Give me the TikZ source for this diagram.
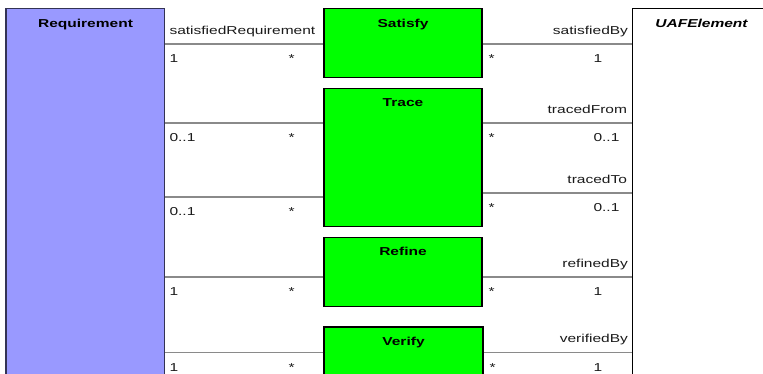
\documentclass[tikz,border=0pt]{standalone}
\usepackage{fontspec}
\setmainfont{Liberation Sans}[FakeStretch=1.35]
\usetikzlibrary{calc,backgrounds}
\definecolor{reqfill}{HTML}{9999FF}
\definecolor{reqdraw}{HTML}{333355}
\definecolor{assocgray}{HTML}{8A8A8A}
\definecolor{relgreen}{HTML}{00FF00}
\definecolor{txt}{HTML}{1A1A1A}
\begin{document}
\begin{tikzpicture}[x=1pt,y=-1pt,
  every node/.style={font=\fontsize{11.5}{13}\selectfont, inner sep=0pt, outer sep=0pt, text=txt},
  box/.style={draw=black, line width=1.5pt, anchor=north west, inner sep=0pt, outer sep=0pt},
  relbox/.style={box, fill=relgreen},
  title/.style={font=\fontsize{11.5}{13}\selectfont\bfseries, anchor=base, text=black},
  ititle/.style={font=\fontsize{11.5}{13}\selectfont\bfseries\itshape, anchor=base, text=black},
  assoc/.style={draw=assocgray, line width=1.5pt},
  lbl/.style={anchor=base west},
  rlbl/.style={anchor=base east},
]
\useasboundingbox (0,0) rectangle (763,373);
\clip (0,0) rectangle (763,373);

% class boxes
\node[box, fill=reqfill, draw=reqdraw, minimum width=158.5pt, minimum height=420pt] (req) at (6,8.5) {};
\node[box, fill=white, minimum width=200pt, minimum height=420pt] (uaf) at (632.5,8.5) {};
\node[relbox, minimum width=158pt, minimum height=69pt] (sat) at (324,8.5) {};
\node[relbox, minimum width=158pt, minimum height=138pt] (trc) at (324,88.5) {};
\node[relbox, minimum width=158pt, minimum height=69pt] (ref) at (324,237.5) {};
\node[relbox, minimum width=159pt, minimum height=100pt] (ver) at (324,327) {};

% titles
\node[title] (reqt) at (85.5,27) {Requirement};
\node[ititle] (uaft) at (701.5,27) {UAFElement};
\node[title] (satt) at (403,27) {Satisfy};
\node[title] (trct) at (403,106.5) {Trace};
\node[title] (reft) at (403,255.5) {Refine};
\node[title] (vert) at (403.5,345) {Verify};

% connector end points
\coordinate (satl) at ($(sat.north west)+(0,35.5)$);
\coordinate (satr) at ($(sat.north east)+(0,35.5)$);
\coordinate (trl1) at ($(trc.north west)+(0,34.5)$);
\coordinate (trr1) at ($(trc.north east)+(0,34.5)$);
\coordinate (trl2) at ($(trc.north west)+(0,108.5)$);
\coordinate (trr2) at ($(trc.north east)+(0,104.5)$);
\coordinate (refl) at ($(ref.north west)+(0,39.5)$);
\coordinate (refr) at ($(ref.north east)+(0,39.5)$);
\coordinate (verl) at ($(ver.north west)+(0,25.7)$);
\coordinate (verr) at ($(ver.north east)+(0,25.7)$);

\begin{scope}[on background layer]
\draw[assoc] (req.east |- satl) -- (satl);
\draw[assoc] (satr) -- (uaf.west |- satr);
\draw[assoc] (req.east |- trl1) -- (trl1);
\draw[assoc] (trr1) -- (uaf.west |- trr1);
\draw[assoc] (req.east |- trl2) -- (trl2);
\draw[assoc] (trr2) -- (uaf.west |- trr2);
\draw[assoc] (req.east |- refl) -- (refl);
\draw[assoc] (refr) -- (uaf.west |- refr);
\draw[assoc] (req.east |- verl) -- (verl);
\draw[assoc] (verr) -- (uaf.west |- verr);
\end{scope}

% Satisfy labels
\node[lbl] (s1) at (169.5,34) {satisfiedRequirement};
\node[lbl] (s2) at (169.5,62) {1};
\node[lbl] (s3) at (288.5,62) {*};
\node[rlbl] (s4) at (628,34) {satisfiedBy};
\node[lbl] (s5) at (488.5,62) {*};
\node[lbl] (s6) at (593.5,62) {1};
% Trace labels (first)
\node[lbl] (t1) at (169.5,141) {0..1};
\node[lbl] (t2) at (288.5,141) {*};
\node[rlbl] (t3) at (627,113) {tracedFrom};
\node[lbl] (t4) at (488.5,141) {*};
\node[lbl] (t5) at (593.5,141) {0..1};
% Trace labels (second)
\node[lbl] (t6) at (169.5,215) {0..1};
\node[lbl] (t7) at (288.5,215) {*};
\node[rlbl] (t8) at (627,183) {tracedTo};
\node[lbl] (t9) at (488.5,211) {*};
\node[lbl] (t10) at (593.5,211) {0..1};
% Refine labels
\node[lbl] (r1) at (169.5,295) {1};
\node[lbl] (r2) at (288.5,295) {*};
\node[rlbl] (r3) at (628,267) {refinedBy};
\node[lbl] (r4) at (488.5,295) {*};
\node[lbl] (r5) at (593.5,295) {1};
% Verify labels
\node[lbl] (v1) at (169.5,371) {1};
\node[lbl] (v2) at (288.5,371) {*};
\node[rlbl] (v3) at (628,342) {verifiedBy};
\node[lbl] (v4) at (489.5,371) {*};
\node[lbl] (v5) at (593.5,371) {1};
\end{tikzpicture}
\end{document}
